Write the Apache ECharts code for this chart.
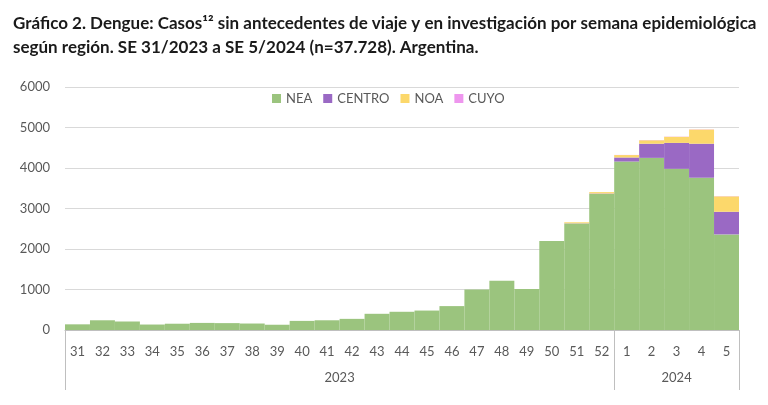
<!DOCTYPE html>
<html>
<head>
<meta charset="utf-8">
<script src="https://cdn.jsdelivr.net/npm/echarts@6/dist/echarts.min.js"></script>
<style>
html,body{margin:0;padding:0;background:#fff;}
#c{width:768px;height:405px;}
</style>
</head>
<body>
<div id="c"></div>
<script>
const weeks = ['31','32','33','34','35','36','37','38','39','40','41','42','43','44','45','46','47','48','49','50','51','52','1','2','3','4','5'];
const NEA    = [140,240,210,135,155,175,170,160,130,225,240,275,400,450,480,590,1000,1215,1015,2195,2630,3360,4160,4250,3980,3760,2360];
const CENTRO = [0,0,0,0,0,0,0,0,0,0,0,0,0,0,0,0,0,0,0,0,5,10,100,350,640,840,560];
const NOA    = [0,0,0,0,0,0,0,0,0,0,0,0,0,0,0,0,0,0,0,0,25,35,60,85,150,350,380];
const CUYO   = [0,0,0,0,0,0,0,0,0,0,0,0,0,0,0,0,0,0,0,0,0,0,3,5,5,5,5];
const yearLabels = ['2023','2024'];
const yearLabelPos = [11, 24.5];
const yearBounds = [0, 22, 27];

const font = 'Lato';
const txt = '#595959';
const chart = echarts.init(document.getElementById('c'));
chart.setOption({
  animation:false,
  title:{
    text:'Gráfico 2. Dengue: Casos¹² sin antecedentes de viaje y en investigación por semana epidemiológica\nsegún región. SE 31/2023 a SE 5/2024 (n=37.728). Argentina.',
    left:8, top:7,
    textStyle:{fontFamily:font, fontSize:17, fontWeight:'bold', color:'#1a1a1a', lineHeight:24}
  },
  legend:{
    top:87, left:267, itemWidth:9, itemHeight:9, itemGap:11, icon:'rect',
    textStyle:{fontFamily:font, fontSize:13, color:txt},
    data:['NEA','CENTRO','NOA','CUYO']
  },
  grid:{left:65, right:29, top:87, bottom:75},
  xAxis:[{
    type:'category', data:weeks,
    axisTick:{show:false},
    axisLine:{lineStyle:{color:'#bfbfbf'}},
    axisLabel:{fontFamily:font, fontSize:13, color:txt, margin:15, interval:0}
  },{
    type:'value', min:0, max:27, position:'bottom',
    axisLine:{show:false},
    splitLine:{show:false},
    axisTick:{show:true, customValues:yearBounds, length:60, lineStyle:{color:'#bfbfbf'}},
    axisLabel:{customValues:yearLabelPos, formatter:function(v){return yearLabels[yearLabelPos.indexOf(v)];}, fontFamily:font, fontSize:13, color:txt, margin:41}
  }],
  yAxis:{
    type:'value', min:0, max:6000, interval:1000,
    axisLine:{show:false}, axisTick:{show:false},
    splitLine:{lineStyle:{color:'#d9d9d9'}},
    axisLabel:{fontFamily:font, fontSize:13, color:txt, margin:15, formatter:function(v){return String(v);}}
  },
  series:[
    {name:'NEA', type:'bar', stack:'t', data:NEA, barCategoryGap:'0%', itemStyle:{color:'#9bc47e'}},
    {name:'CENTRO', type:'bar', stack:'t', data:CENTRO, barCategoryGap:'0%', itemStyle:{color:'#9a69c4'}},
    {name:'NOA', type:'bar', stack:'t', data:NOA, barCategoryGap:'0%', itemStyle:{color:'#fcd86b'}},
    {name:'CUYO', type:'bar', stack:'t', data:CUYO, barCategoryGap:'0%', itemStyle:{color:'#ee96ee'}}
  ]
});
</script>
</body>
</html>
